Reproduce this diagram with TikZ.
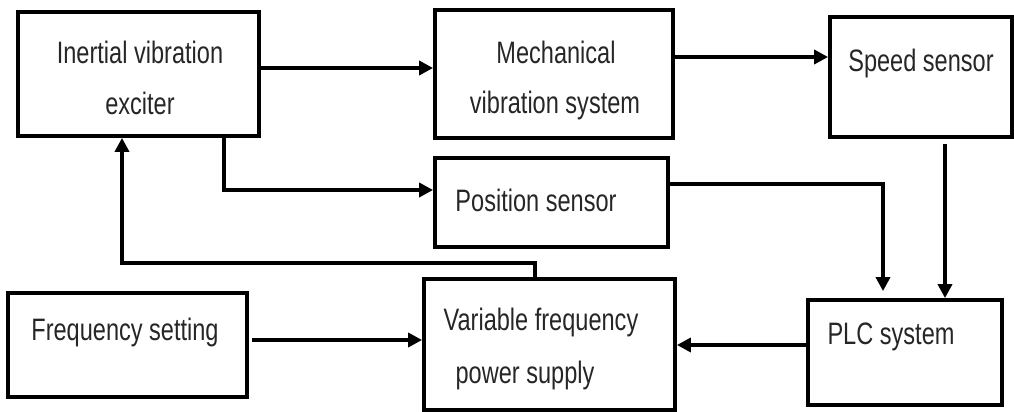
\documentclass[tikz,border=0pt]{standalone}
\usepackage{fontspec}
\newfontfamily\diagfont[FakeStretch=0.76]{Liberation Sans}
\usetikzlibrary{calc,positioning,arrows.meta}

\begin{document}
\begin{tikzpicture}[x=1pt,y=-1pt,
		blockbox/.style={draw,line width=3.8pt,inner sep=0pt},
		lbl/.style={font=\diagfont\fontsize{31}{36}\selectfont,inner sep=0pt,text=black!85},
		flow/.style={line width=3.6pt,-{Triangle[length=14pt,width=14pt]}}]
				 %\draw[color=gray,step=10pt, help lines,opacity=0.3] (0,0) grid (1014,412); %help grids
				 \useasboundingbox (0,0) rectangle (1014,412);
				 % boxes
				 \node[blockbox,minimum width=241pt,minimum height=124pt] (exc) at (138.5,74) {};
				 \node[blockbox,minimum width=238pt,minimum height=128pt] (mech) at (554,74) {};
				 \node[blockbox,minimum width=182pt,minimum height=120pt] (speed) at (921,77) {};
				 \node[blockbox,minimum width=233pt,minimum height=89pt] (pos) at (551.5,202.5) {};
				 \node[blockbox,minimum width=239pt,minimum height=104pt] (freq) at (127.5,345) {};
				 \node[blockbox,minimum width=251pt,minimum height=131pt] (vfps) at (549.5,344.5) {};
				 \node[blockbox,minimum width=194pt,minimum height=105pt] (plc) at (905,352.5) {};
				 % texts
				 \node[lbl] (excA) at (140,52) {Inertial vibration};
				 \node[lbl] (excB) at (140,103) {exciter};
				 \node[lbl] (mechA) at (556,52) {Mechanical};
				 \node[lbl] (mechB) at (555,105) {vibration system};
				 \node[lbl] (speedA) at (921,63) {Speed sensor};
				 \node[lbl] (posA) at (536,200) {Position sensor};
				 \node[lbl] (freqA) at (125,332) {Frequency setting};
				 \node[lbl] (vfpsA) at (541,322) {Variable frequency};
				 \node[lbl] (vfpsB) at (525,375) {power supply};
				 \node[lbl] (plcA) at (891,337) {PLC system};
				 % connectors
				 \draw[flow] (exc.east |- 0,68) -- (mech.west |- 0,68);
				 \draw[flow] (mech.east |- 0,57) -- (speed.west |- 0,57);
				 \draw[flow] (exc.south -| 224,0) |- (pos.west |- 0,190);
				 \draw[flow,shorten >=7pt] (pos.east |- 0,184) -| (plc.north -| 883,0);
				 \draw[flow,shorten <=5pt] (speed.south -| 945,0) -- (plc.north -| 945,0);
				 \draw[flow,shorten <=3pt] (freq.east |- 0,340) -- (vfps.west |- 0,340);
				 \draw[flow] (plc.west |- 0,345) -- (vfps.east |- 0,345);
				 \draw[flow] (vfps.north -| 535,0) -- (535,263) -| (exc.south -| 122,0);
\end{tikzpicture}
\end{document}
